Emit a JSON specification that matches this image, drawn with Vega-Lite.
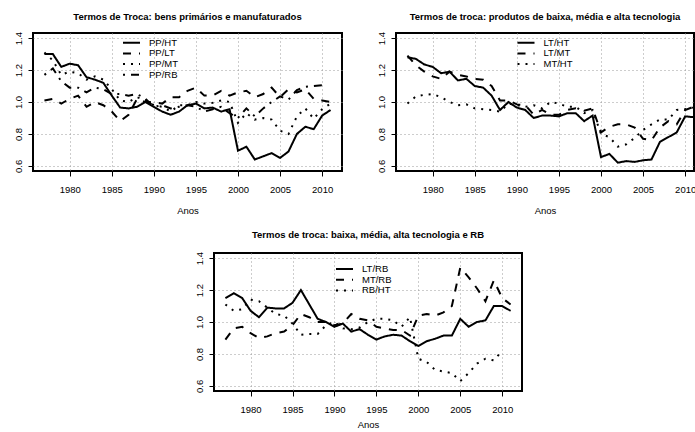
{
  "$schema": "https://vega.github.io/schema/vega-lite/v6.json",
  "background": "white",
  "padding": {"left": 12, "top": 11, "right": 0, "bottom": 0},
  "datasets": {
    "tt": [
      {"year": 1977, "PP/HT": 1.30, "PP/LT": 1.01, "PP/MT": 1.31, "PP/RB": 1.17, "LT/HT": 1.28, "LT/MT": 1.29, "MT/HT": 0.99, "LT/RB": 1.15, "MT/RB": 0.89, "RB/HT": 1.11},
      {"year": 1978, "PP/HT": 1.30, "PP/LT": 1.02, "PP/MT": 1.26, "PP/RB": 1.21, "LT/HT": 1.27, "LT/MT": 1.23, "MT/HT": 1.035, "LT/RB": 1.18, "MT/RB": 0.96, "RB/HT": 1.07},
      {"year": 1979, "PP/HT": 1.22, "PP/LT": 0.99, "PP/MT": 1.17, "PP/RB": 1.13, "LT/HT": 1.235, "LT/MT": 1.19, "MT/HT": 1.045, "LT/RB": 1.15, "MT/RB": 0.97, "RB/HT": 1.08},
      {"year": 1980, "PP/HT": 1.24, "PP/LT": 1.02, "PP/MT": 1.19, "PP/RB": 1.09, "LT/HT": 1.22, "LT/MT": 1.16, "MT/HT": 1.05, "LT/RB": 1.07, "MT/RB": 0.93, "RB/HT": 1.14},
      {"year": 1981, "PP/HT": 1.23, "PP/LT": 1.04, "PP/MT": 1.18, "PP/RB": 1.09, "LT/HT": 1.18, "LT/MT": 1.145, "MT/HT": 1.03, "LT/RB": 1.03, "MT/RB": 0.90, "RB/HT": 1.13},
      {"year": 1982, "PP/HT": 1.155, "PP/LT": 0.97, "PP/MT": 1.14, "PP/RB": 1.06, "LT/HT": 1.19, "LT/MT": 1.19, "MT/HT": 1.0, "LT/RB": 1.09, "MT/RB": 0.91, "RB/HT": 1.09},
      {"year": 1983, "PP/HT": 1.14, "PP/LT": 1.00, "PP/MT": 1.16, "PP/RB": 1.09, "LT/HT": 1.135, "LT/MT": 1.17, "MT/HT": 0.98, "LT/RB": 1.085, "MT/RB": 0.93, "RB/HT": 1.05},
      {"year": 1984, "PP/HT": 1.12, "PP/LT": 0.98, "PP/MT": 1.14, "PP/RB": 1.08, "LT/HT": 1.145, "LT/MT": 1.16, "MT/HT": 0.985, "LT/RB": 1.085, "MT/RB": 0.94, "RB/HT": 1.04},
      {"year": 1985, "PP/HT": 1.04, "PP/LT": 0.94, "PP/MT": 1.08, "PP/RB": 1.05, "LT/HT": 1.10, "LT/MT": 1.145, "MT/HT": 0.96, "LT/RB": 1.12, "MT/RB": 0.98, "RB/HT": 0.99},
      {"year": 1986, "PP/HT": 0.965, "PP/LT": 0.88, "PP/MT": 1.01, "PP/RB": 1.05, "LT/HT": 1.09, "LT/MT": 1.14, "MT/HT": 0.955, "LT/RB": 1.20, "MT/RB": 1.05, "RB/HT": 0.92},
      {"year": 1987, "PP/HT": 0.96, "PP/LT": 0.92, "PP/MT": 1.00, "PP/RB": 1.04, "LT/HT": 1.04, "LT/MT": 1.10, "MT/HT": 0.95, "LT/RB": 1.11, "MT/RB": 1.03, "RB/HT": 0.925},
      {"year": 1988, "PP/HT": 0.97, "PP/LT": 1.02, "PP/MT": 1.03, "PP/RB": 1.05, "LT/HT": 0.95, "LT/MT": 1.01, "MT/HT": 0.94, "LT/RB": 1.02, "MT/RB": 1.00, "RB/HT": 0.925},
      {"year": 1989, "PP/HT": 1.00, "PP/LT": 1.00, "PP/MT": 1.01, "PP/RB": 1.02, "LT/HT": 1.00, "LT/MT": 1.01, "MT/HT": 0.99, "LT/RB": 1.00, "MT/RB": 1.00, "RB/HT": 0.98},
      {"year": 1990, "PP/HT": 0.97, "PP/LT": 1.00, "PP/MT": 0.98, "PP/RB": 0.97, "LT/HT": 0.965, "LT/MT": 0.985, "MT/HT": 0.98, "LT/RB": 0.97, "MT/RB": 0.98, "RB/HT": 1.00},
      {"year": 1991, "PP/HT": 0.94, "PP/LT": 0.99, "PP/MT": 0.97, "PP/RB": 0.98, "LT/HT": 0.95, "LT/MT": 0.98, "MT/HT": 0.97, "LT/RB": 0.99, "MT/RB": 0.99, "RB/HT": 0.96},
      {"year": 1992, "PP/HT": 0.92, "PP/LT": 1.03, "PP/MT": 0.94, "PP/RB": 0.96, "LT/HT": 0.90, "LT/MT": 0.92, "MT/HT": 0.98, "LT/RB": 0.94, "MT/RB": 1.05, "RB/HT": 0.955},
      {"year": 1993, "PP/HT": 0.94, "PP/LT": 1.03, "PP/MT": 0.98, "PP/RB": 0.97, "LT/HT": 0.915, "LT/MT": 0.95, "MT/HT": 0.96, "LT/RB": 0.955, "MT/RB": 1.02, "RB/HT": 0.965},
      {"year": 1994, "PP/HT": 0.98, "PP/LT": 1.07, "PP/MT": 0.98, "PP/RB": 0.98, "LT/HT": 0.915, "LT/MT": 0.92, "MT/HT": 1.00, "LT/RB": 0.92, "MT/RB": 1.01, "RB/HT": 1.00},
      {"year": 1995, "PP/HT": 0.99, "PP/LT": 1.09, "PP/MT": 1.00, "PP/RB": 0.97, "LT/HT": 0.91, "LT/MT": 0.92, "MT/HT": 0.99, "LT/RB": 0.89, "MT/RB": 0.97, "RB/HT": 1.02},
      {"year": 1996, "PP/HT": 0.96, "PP/LT": 1.04, "PP/MT": 0.99, "PP/RB": 0.94, "LT/HT": 0.93, "LT/MT": 0.95, "MT/HT": 0.97, "LT/RB": 0.91, "MT/RB": 0.96, "RB/HT": 1.02},
      {"year": 1997, "PP/HT": 0.965, "PP/LT": 1.04, "PP/MT": 0.995, "PP/RB": 0.955, "LT/HT": 0.93, "LT/MT": 0.96, "MT/HT": 0.97, "LT/RB": 0.92, "MT/RB": 0.95, "RB/HT": 1.01},
      {"year": 1998, "PP/HT": 0.94, "PP/LT": 1.07, "PP/MT": 1.01, "PP/RB": 0.97, "LT/HT": 0.88, "LT/MT": 0.945, "MT/HT": 0.93, "LT/RB": 0.915, "MT/RB": 0.95, "RB/HT": 0.97},
      {"year": 1999, "PP/HT": 0.955, "PP/LT": 1.04, "PP/MT": 1.00, "PP/RB": 0.93, "LT/HT": 0.915, "LT/MT": 0.96, "MT/HT": 0.95, "LT/RB": 0.88, "MT/RB": 0.915, "RB/HT": 1.03},
      {"year": 2000, "PP/HT": 0.695, "PP/LT": 1.06, "PP/MT": 0.87, "PP/RB": 0.90, "LT/HT": 0.655, "LT/MT": 0.81, "MT/HT": 0.80, "LT/RB": 0.85, "MT/RB": 1.04, "RB/HT": 0.77},
      {"year": 2001, "PP/HT": 0.72, "PP/LT": 1.07, "PP/MT": 0.93, "PP/RB": 0.96, "LT/HT": 0.675, "LT/MT": 0.845, "MT/HT": 0.78, "LT/RB": 0.88, "MT/RB": 1.05, "RB/HT": 0.75},
      {"year": 2002, "PP/HT": 0.64, "PP/LT": 1.03, "PP/MT": 0.89, "PP/RB": 0.91, "LT/HT": 0.62, "LT/MT": 0.86, "MT/HT": 0.72, "LT/RB": 0.895, "MT/RB": 1.04, "RB/HT": 0.70},
      {"year": 2003, "PP/HT": 0.66, "PP/LT": 1.05, "PP/MT": 0.90, "PP/RB": 0.96, "LT/HT": 0.63, "LT/MT": 0.86, "MT/HT": 0.735, "LT/RB": 0.915, "MT/RB": 1.06, "RB/HT": 0.69},
      {"year": 2004, "PP/HT": 0.68, "PP/LT": 1.09, "PP/MT": 0.89, "PP/RB": 1.00, "LT/HT": 0.625, "LT/MT": 0.84, "MT/HT": 0.775, "LT/RB": 0.915, "MT/RB": 1.10, "RB/HT": 0.68},
      {"year": 2005, "PP/HT": 0.65, "PP/LT": 1.03, "PP/MT": 0.82, "PP/RB": 1.035, "LT/HT": 0.635, "LT/MT": 0.77, "MT/HT": 0.825, "LT/RB": 1.02, "MT/RB": 1.34, "RB/HT": 0.63},
      {"year": 2006, "PP/HT": 0.69, "PP/LT": 1.08, "PP/MT": 0.80, "PP/RB": 1.015, "LT/HT": 0.64, "LT/MT": 0.76, "MT/HT": 0.86, "LT/RB": 0.97, "MT/RB": 1.28, "RB/HT": 0.68},
      {"year": 2007, "PP/HT": 0.80, "PP/LT": 1.06, "PP/MT": 0.91, "PP/RB": 1.075, "LT/HT": 0.75, "LT/MT": 0.84, "MT/HT": 0.89, "LT/RB": 1.00, "MT/RB": 1.21, "RB/HT": 0.74},
      {"year": 2008, "PP/HT": 0.845, "PP/LT": 1.08, "PP/MT": 0.96, "PP/RB": 1.095, "LT/HT": 0.78, "LT/MT": 0.88, "MT/HT": 0.89, "LT/RB": 1.01, "MT/RB": 1.13, "RB/HT": 0.77},
      {"year": 2009, "PP/HT": 0.83, "PP/LT": 1.02, "PP/MT": 0.895, "PP/RB": 1.10, "LT/HT": 0.81, "LT/MT": 0.86, "MT/HT": 0.95, "LT/RB": 1.10, "MT/RB": 1.26, "RB/HT": 0.76},
      {"year": 2010, "PP/HT": 0.915, "PP/LT": 1.01, "PP/MT": 0.955, "PP/RB": 1.105, "LT/HT": 0.91, "LT/MT": 0.95, "MT/HT": 0.955, "LT/RB": 1.10, "MT/RB": 1.15, "RB/HT": 0.82},
      {"year": 2011, "PP/HT": 0.95, "PP/LT": 1.00, "PP/MT": 0.99, "LT/HT": 0.905, "LT/MT": 0.97, "MT/HT": 0.965, "LT/RB": 1.07, "MT/RB": 1.11}
    ]
  },
  "spacing": 13,
  "resolve": {"scale": {"strokeDash": "independent"}, "legend": {"strokeDash": "independent"}},
  "vconcat": [
    {
      "hconcat": [
        {
          "width": 309,
          "height": 138,
          "data": {"name": "tt"},
          "transform": [{"fold": ["PP/HT", "PP/LT", "PP/MT", "PP/RB"], "as": ["serie", "valor"]}, {"filter": "isValid(datum.valor)"}],
          "title": {"text": "Termos de Troca: bens primários e manufaturados"},
          "mark": {"type": "line", "color": "black", "strokeWidth": 2, "clip": true},
          "encoding": {
            "x": {"field": "year", "type": "quantitative", "scale": {"domain": [1975.64, 2012.36], "nice": false, "zero": false}, "axis": {"values": [1980, 1985, 1990, 1995, 2000, 2005, 2010], "format": "d", "title": "Anos"}},
            "y": {"field": "valor", "type": "quantitative", "scale": {"domain": [0.568, 1.432], "nice": false, "zero": false}, "axis": {"values": [0.6, 0.8, 1.0, 1.2, 1.4], "format": ".1f", "title": null}},
            "strokeDash": {"field": "serie", "type": "nominal", "scale": {"domain": ["PP/HT", "PP/LT", "PP/MT", "PP/RB"], "range": [[1, 0], [8, 8], [2, 6], [2, 6, 8, 6]]}, "legend": {"title": null, "legendX": 93.5, "legendY": 4.7}}
          }
        },
        {
          "width": 298,
          "height": 138,
          "data": {"name": "tt"},
          "transform": [{"fold": ["LT/HT", "LT/MT", "MT/HT"], "as": ["serie", "valor"]}, {"filter": "isValid(datum.valor)"}],
          "title": {"text": "Termos de troca: produtos de baixa, média e alta tecnologia"},
          "mark": {"type": "line", "color": "black", "strokeWidth": 2, "clip": true},
          "encoding": {
            "x": {"field": "year", "type": "quantitative", "scale": {"domain": [1975.64, 2011.05], "nice": false, "zero": false}, "axis": {"values": [1980, 1985, 1990, 1995, 2000, 2005, 2010], "format": "d", "title": "Anos"}},
            "y": {"field": "valor", "type": "quantitative", "scale": {"domain": [0.568, 1.432], "nice": false, "zero": false}, "axis": {"values": [0.6, 0.8, 1.0, 1.2, 1.4], "format": ".1f", "title": null}},
            "strokeDash": {"field": "serie", "type": "nominal", "scale": {"domain": ["LT/HT", "LT/MT", "MT/HT"], "range": [[1, 0], [8, 8], [2, 6]]}, "legend": {"title": null, "legendX": 125, "legendY": 4.7}}
          }
        }
      ],
      "spacing": 54,
      "bounds": "flush",
      "resolve": {"scale": {"strokeDash": "independent"}, "legend": {"strokeDash": "independent"}}
    },
    {
      "hconcat": [
        {
          "width": 171,
          "height": 10,
          "view": {"stroke": null},
          "data": {"values": [{"k": 1}]},
          "mark": {"type": "point", "opacity": 0},
          "encoding": {}
        },
        {
          "width": 308,
          "height": 138,
          "data": {"name": "tt"},
          "transform": [{"fold": ["LT/RB", "MT/RB", "RB/HT"], "as": ["serie", "valor"]}, {"filter": "isValid(datum.valor)"}],
          "title": {"text": "Termos de troca: baixa, média, alta tecnologia e RB", "offset": 12},
          "mark": {"type": "line", "color": "black", "strokeWidth": 2, "clip": true},
          "encoding": {
            "x": {"field": "year", "type": "quantitative", "scale": {"domain": [1975.64, 2012.36], "nice": false, "zero": false}, "axis": {"values": [1980, 1985, 1990, 1995, 2000, 2005, 2010], "format": "d", "title": "Anos", "titlePadding": 5}},
            "y": {"field": "valor", "type": "quantitative", "scale": {"domain": [0.568, 1.432], "nice": false, "zero": false}, "axis": {"values": [0.6, 0.8, 1.0, 1.2, 1.4], "format": ".1f", "title": null}},
            "strokeDash": {"field": "serie", "type": "nominal", "scale": {"domain": ["LT/RB", "MT/RB", "RB/HT"], "range": [[1, 0], [8, 8], [2, 6]]}, "legend": {"title": null, "legendX": 125.5, "legendY": 11}}
          }
        }
      ],
      "spacing": 10,
      "bounds": "flush",
      "resolve": {"scale": {"strokeDash": "independent"}, "legend": {"strokeDash": "independent"}}
    }
  ],
  "config": {
    "font": "Liberation Sans",
    "view": {"stroke": "black", "strokeWidth": 2},
    "axis": {"domain": false, "grid": true, "gridColor": "#9a9a9a", "gridDash": [1, 3], "gridWidth": 1, "tickColor": "black", "tickSize": 5, "labelFont": "Liberation Sans", "labelFontSize": 9.5, "labelColor": "black", "titleFont": "Liberation Sans", "titleFontSize": 9.5, "titleFontWeight": "normal", "titleColor": "black"},
    "axisX": {"labelPadding": 8.5, "titlePadding": 11},
    "axisY": {"labelAngle": -90, "labelAlign": "center", "labelBaseline": "bottom", "labelPadding": 5},
    "title": {"font": "Liberation Sans", "fontSize": 9.5, "fontWeight": "bold", "color": "black", "offset": 10, "anchor": "middle"},
    "legend": {"orient": "none", "labelFontSize": 9.5, "labelFont": "Liberation Sans", "labelColor": "black", "symbolType": "M-2.125,0H2.125", "symbolStrokeWidth": 2, "symbolSize": 64, "symbolStrokeColor": "black", "symbolFillColor": "transparent", "labelOffset": 12.5, "rowPadding": 0.7, "padding": 0}
  }
}
